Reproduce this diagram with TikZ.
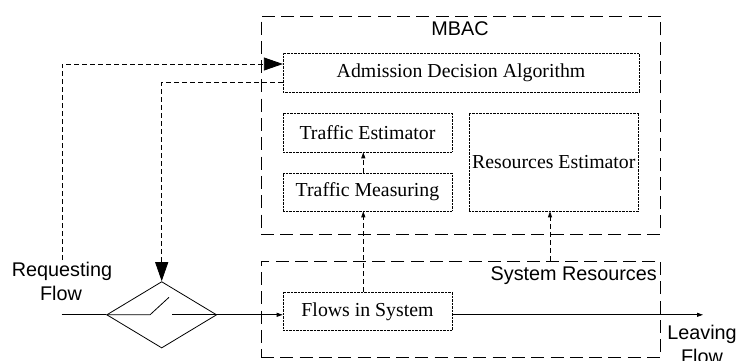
\documentclass[tikz,border=0pt]{standalone}
\usepackage{fontspec}
\setmainfont{Liberation Serif}
\setsansfont{Liberation Sans}
\usetikzlibrary{arrows.meta,shapes.geometric}
\begin{document}
\begin{tikzpicture}[x=1pt,y=-1pt,
  txt/.style={font=\fontsize{19.8pt}{23.7pt}\selectfont},
  stxt/.style={font=\sffamily\fontsize{19.8pt}{23.7pt}\selectfont, inner sep=0pt},
  bigbox/.style={draw, dash pattern=on 13pt off 6.3pt, line width=0.8pt, inner sep=0pt},
  dotbox/.style={draw, dash pattern=on 0.8pt off 0.6pt, line width=0.6pt, inner sep=0pt, txt},
  conn/.style={draw, dash pattern=on 5pt off 3pt, line width=0.8pt},
  solid line/.style={draw, line width=0.8pt},
  bighead/.style={-{Triangle[length=19pt,width=13pt]}},
  smallhead/.style={-{Triangle[length=6pt,width=4pt]}}
]
\useasboundingbox (0,0) rectangle (739,360);
\clip (0,0) rectangle (739,360);
% large dashed boxes
\node[bigbox, minimum width=399.7pt, minimum height=218pt] (mbacbox) at (460.85,125) {};
\node[bigbox, minimum width=399.7pt, minimum height=96.7pt] (sysbox) at (460.85,309.35) {};
% dotted boxes
\node[dotbox, minimum width=355.7pt, minimum height=39pt] (adm) at (461,72.5) {Admission Decision Algorithm};
\node[dotbox, minimum width=169pt, minimum height=39pt] (te) at (367.5,132.5) {Traffic Estimator};
\node[dotbox, minimum width=169pt, minimum height=38pt] (tm) at (367.5,192) {Traffic Measuring};
\node[dotbox, minimum width=169.7pt, minimum height=98pt] (re) at (553.8,162) {Resources Estimator};
\node[dotbox, minimum width=169pt, minimum height=38.7pt] (fis) at (367.5,311.3) {Flows in System};
% labels
\node[stxt, anchor=base] (mbaclbl) at (460,35) {MBAC};
\node[stxt, anchor=base east] (syslbl) at (657,280) {System Resources};
\node[stxt, anchor=base] (req1) at (62,276.7) {Requesting};
\node[stxt, anchor=base] (req2) at (61,300.6) {Flow};
\node[stxt, anchor=base] (lv1) at (702,339) {Leaving};
\node[stxt, anchor=base] (lv2) at (702,363) {Flow};
% switch (diamond)
\node[draw, line width=0.8pt, diamond, shape aspect=1, minimum width=110pt, minimum height=66.4pt, inner sep=0pt] (sw) at (161.7,314.8) {};
\coordinate (swa) at (150,314.8);
\coordinate (swb) at (169,297.3);
\coordinate (swc) at (172.3,314.8);
\draw[solid line] (sw.west) -- (swa) -- (swb);
\draw[solid line] (swc) -- (sw.east);
% main flow
\coordinate (inL) at (61.7,314.8);
\coordinate (outR) at (703,314.8);
\draw[solid line] (inL) -- (sw.west);
\draw[solid line, smallhead] (sw.east) -- (sw.east -| fis.west);
\draw[solid line, smallhead] (sw.east -| fis.east) -- (outR);
% dashed connectors
\coordinate (rq) at (62,260);
\draw[conn, bighead] (rq) |- ([yshift=8.5pt]adm.west);
\draw[conn, bighead] ([yshift=-10pt]adm.west) -| (sw.north);
\draw[conn, smallhead] ([xshift=-4.2pt]tm.north) -- ([xshift=-4.2pt]te.south);
\draw[conn, smallhead] ([xshift=-4.2pt]fis.north) -- ([xshift=-4.2pt]tm.south);
\draw[conn, smallhead] ([xshift=-3.8pt]re.south |- sysbox.north) -- ([xshift=-3.8pt]re.south);
\end{tikzpicture}
\end{document}
